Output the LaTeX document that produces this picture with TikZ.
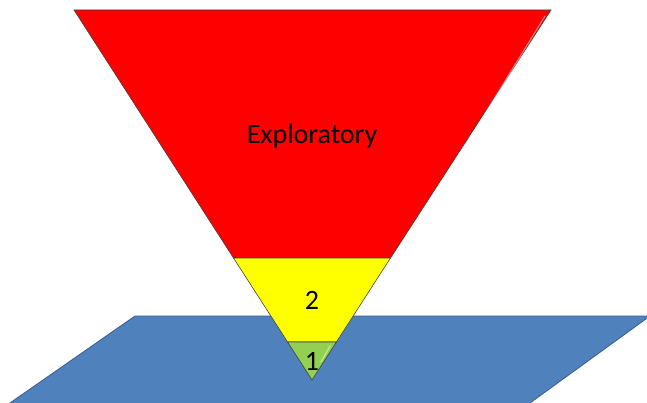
\documentclass[tikz,border=0pt]{standalone}
\usepackage{fontspec}
\setmainfont{Carlito}
\begin{document}
\begin{tikzpicture}[x=1pt,y=-1pt,
  seg/.style={draw=black!75,line width=0.6pt,line join=miter},
  lbl/.style={font=\fontsize{28}{30}\selectfont,text=black,anchor=base,inner sep=0pt},
  gloss/.style={white,line width=1.2pt,opacity=0.45,line cap=round}]
\useasboundingbox (0,0) rectangle (647,403);
\begin{scope}
\clip (0,0) rectangle (647,403);
% blue plane
\fill[fill={rgb,255:red,79;green,129;blue,189},draw={rgb,255:red,56;green,93;blue,138},line width=0.8pt]
  (135,316) -- (650,316) -- (517.6,412) -- (-3,412) -- cycle;
\end{scope}
% triangle corners
\coordinate (tl) at (74,10);
\coordinate (tr) at (551,10);
\coordinate (ap) at (312,380);
\coordinate (yl) at (233.5,258);
\coordinate (yr) at (390.5,258);
\coordinate (gl) at (287.6,342);
\coordinate (gr) at (336.4,342);
% red
\filldraw[seg,fill={rgb,255:red,255;green,0;blue,0}] (tl) -- (tr) -- (yr) -- (yl) -- cycle;
% yellow
\filldraw[seg,fill={rgb,255:red,255;green,255;blue,0}] (yl) -- (yr) -- (gr) -- (gl) -- cycle;
% green
\filldraw[seg,fill={rgb,255:red,146;green,208;blue,80}] (gl) -- (gr) -- (ap) -- cycle;
% gloss highlights
\draw[gloss] (545,16) -- (403,247);
\draw[gloss] (330,346) -- (321,362);
% labels
\node[lbl] (t3) at (312,144) {Exploratory};
\node[lbl] (t2) at (312,309) {2};
\node[lbl] (t1) at (312,370) {1};
\end{tikzpicture}
\end{document}
